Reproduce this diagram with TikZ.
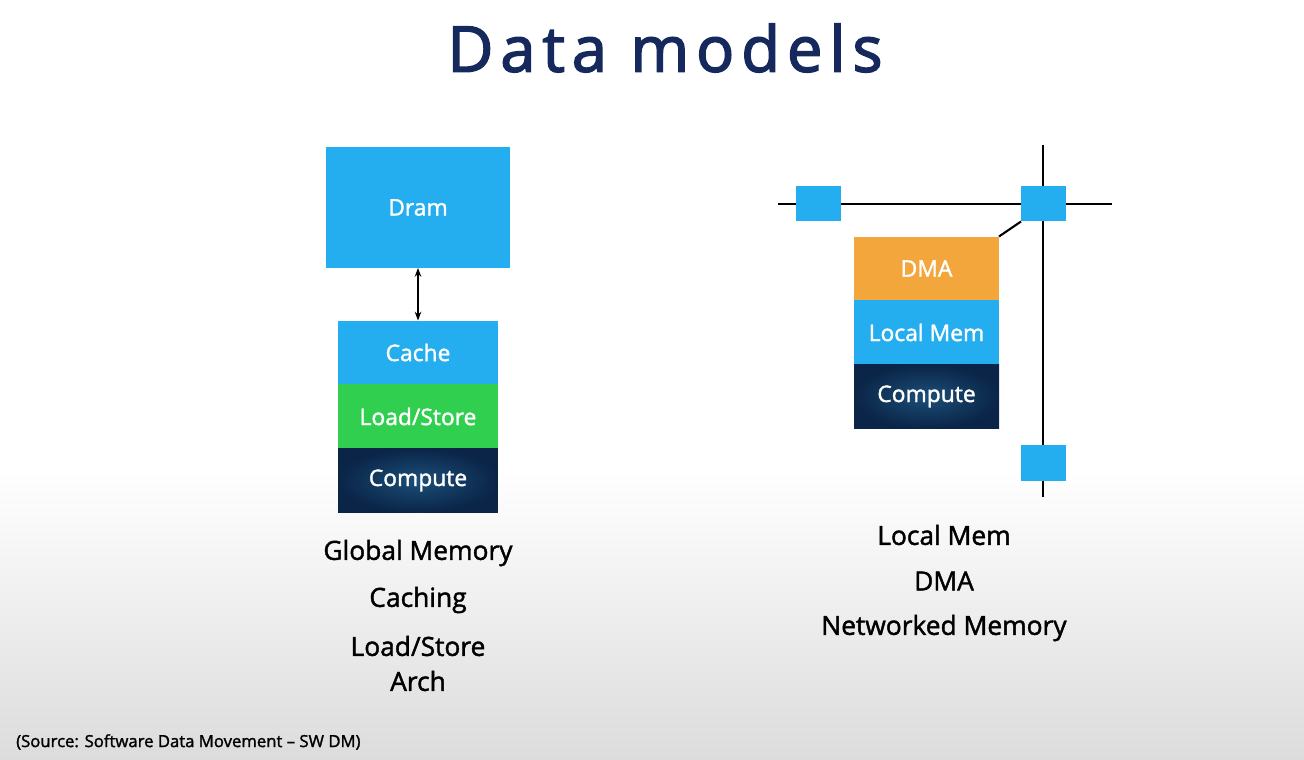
\documentclass[tikz,border=0pt]{standalone}
\usepackage{fontspec}
\setmainfont{Open Sans}
\newfontfamily\heavier[FakeBold=1.6]{Open Sans}
\newfontfamily\titlefont[FakeBold=2.4,LetterSpace=11]{Open Sans}
\usetikzlibrary{positioning,arrows.meta}
\definecolor{skyblue}{HTML}{25AEEF}
\definecolor{loadgreen}{HTML}{30CF50}
\definecolor{dmaorange}{HTML}{F2A63C}
\definecolor{navyout}{HTML}{0A2548}
\definecolor{navyin}{HTML}{1C4E77}
\definecolor{titleblue}{HTML}{15295C}
\definecolor{bggray}{HTML}{DCDCDC}
\begin{document}
\begin{tikzpicture}[x=0.02cm,y=-0.02cm,
	blk/.style={fill=skyblue,text=white,inner sep=0,outer sep=0,font=\heavier\fontsize{13}{15}\selectfont},
	layer/.style={blk,minimum width=3.2cm,minimum height=1.28cm},
	slab/.style={blk,minimum width=2.9cm,minimum height=1.28cm},
	router/.style={fill=skyblue,inner sep=0,outer sep=0,minimum width=0.9cm,minimum height=0.72cm},
	compute/.style={inner color=navyin,outer color=navyout},
	caption/.style={font=\heavier\fontsize{15}{18}\selectfont,text=black},
	wire/.style={line width=1.2pt,black}]
	\useasboundingbox (0,0) rectangle (1304,760);
	\fill[white] (0,0) rectangle (1304,470);
	\shade[top color=white,bottom color=bggray] (0,470) rectangle (1304,760);
	\node[text=titleblue,font=\titlefont\fontsize{36}{40}\selectfont] (title) at (665,48) {Data models};

	\node[blk,minimum width=3.68cm,minimum height=2.42cm] (dram) at (418,207.5) {Dram};
	\node[layer] (cache) at (418,352.5) {Cache};
	\node[layer,fill=loadgreen,below=0pt of cache] (ls) {Load/Store};
	\node[layer,compute,below=0pt of ls] (comp) {Compute};
	\draw[line width=1pt,{Stealth[length=5pt]}-{Stealth[length=5pt]}] (dram) -- (cache);

	\node[caption] (gm) at (418,553) {Global Memory};
	\node[caption] (cach) at (418,600) {Caching};
	\node[caption] (lsa) at (418,646) {Load/Store};
	\node[caption] (arch) at (418,681) {Arch};

	\path (778,204) coordinate (hw)
	++ (334,0) coordinate (he)
	(1043,145) coordinate (vn)
	++ (0,352) coordinate (vs);
	\draw[wire] (hw) -- (he);
	\draw[wire] (vn) -- (vs);
	\node[router] (ra) at (818.5,203.5) {};
	\node[router] (rb) at (1043.5,203.5) {};
	\node[router] (rc) at (1043.5,462.5) {};

	\node[slab,fill=dmaorange] (dma) at (926.5,268.5) {DMA};
	\node[slab,below=0pt of dma] (lmem) {Local Mem};
	\node[slab,compute,below=0pt of lmem] (comp2) {Compute};
	\draw[wire] (dma.north east) -- (rb.south west);

	\node[caption] (lm) at (944,535) {Local Mem};
	\node[caption] (dm) at (944,581) {DMA};
	\node[caption] (nm) at (944,628) {Networked Memory};

	\node[anchor=west,font=\heavier\fontsize{9.5}{11}\selectfont] (src) at (10,742) {(Source: Software Data Movement – SW DM)};
\end{tikzpicture}
\end{document}
